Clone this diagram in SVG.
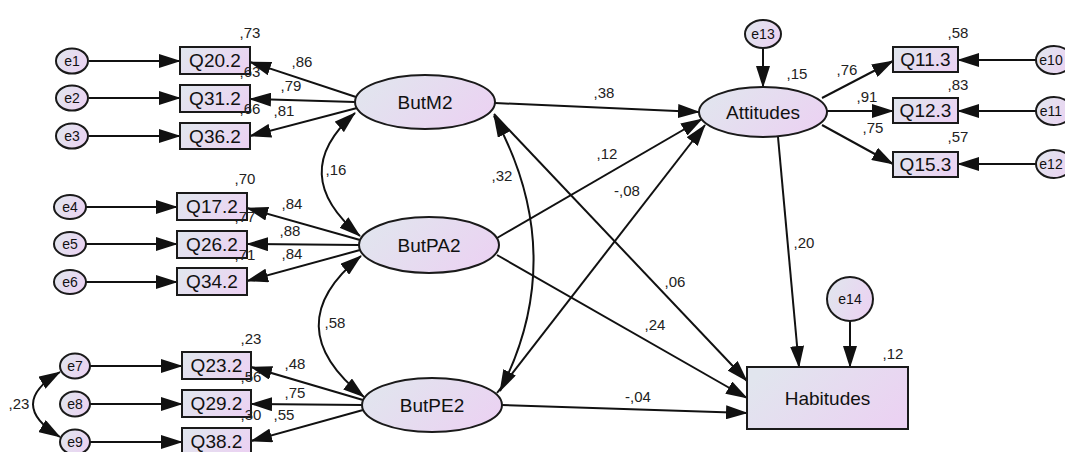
<svg xmlns="http://www.w3.org/2000/svg" width="1065" height="452" viewBox="0 0 1065 452">
<defs>
<linearGradient id="g" x1="0" y1="0.3" x2="1" y2="0.7">
<stop offset="0" stop-color="#e1e5ee"/>
<stop offset="1" stop-color="#ebd2f2"/>
</linearGradient>
<marker id="ah" viewBox="0 0 22 14" refX="21" refY="7" markerWidth="22" markerHeight="14" markerUnits="userSpaceOnUse" orient="auto-start-reverse">
<path d="M0,0 L22,7 L0,14 z" fill="#111"/>
</marker>
<style>
.sh{fill:url(#g);stroke:#1a1a1a;stroke-width:2}
.ln{fill:none;stroke:#111;stroke-width:2;marker-end:url(#ah)}
.cv{fill:none;stroke:#111;stroke-width:2;marker-start:url(#ah);marker-end:url(#ah)}
.t{font-family:"Liberation Sans",Arial,sans-serif;font-size:19px;fill:#111;text-anchor:middle}
.te{font-family:"Liberation Sans",Arial,sans-serif;font-size:14px;fill:#111;text-anchor:middle}
.lb{font-family:"Liberation Sans",Arial,sans-serif;font-size:15px;fill:#222;text-anchor:middle}
</style>
</defs>
<rect width="1065" height="452" fill="#fff"/>
<g id="connectors">
<line class="ln" x1="89" y1="61" x2="180" y2="61"/>
<line class="ln" x1="89" y1="98" x2="180" y2="98"/>
<line class="ln" x1="89" y1="136" x2="180" y2="136"/>
<line class="ln" x1="86" y1="207" x2="177" y2="207"/>
<line class="ln" x1="86" y1="244" x2="177" y2="244"/>
<line class="ln" x1="86" y1="282" x2="177" y2="282"/>
<line class="ln" x1="90" y1="366" x2="182" y2="366"/>
<line class="ln" x1="90" y1="404" x2="182" y2="404"/>
<line class="ln" x1="90" y1="442" x2="182" y2="442"/>
<line class="ln" x1="356" y1="97" x2="250" y2="62"/>
<line class="ln" x1="355" y1="102" x2="250" y2="99"/>
<line class="ln" x1="357" y1="108" x2="250" y2="136"/>
<line class="ln" x1="360" y1="240" x2="247" y2="208"/>
<line class="ln" x1="359" y1="245" x2="247" y2="244"/>
<line class="ln" x1="360" y1="250" x2="247" y2="281"/>
<line class="ln" x1="363" y1="400" x2="251" y2="367"/>
<line class="ln" x1="362" y1="405" x2="251" y2="404"/>
<line class="ln" x1="363" y1="410" x2="251" y2="441"/>
<line class="ln" x1="822" y1="98" x2="893" y2="61"/>
<line class="ln" x1="827" y1="111" x2="893" y2="111"/>
<line class="ln" x1="822" y1="125" x2="893" y2="164"/>
<line class="ln" x1="1036" y1="60" x2="958" y2="60"/>
<line class="ln" x1="1036" y1="111" x2="958" y2="111"/>
<line class="ln" x1="1036" y1="164" x2="958" y2="164"/>
<line class="ln" x1="763" y1="48" x2="763" y2="87"/>
<line class="ln" x1="850" y1="321" x2="850" y2="367"/>
<line class="ln" x1="495" y1="103" x2="699" y2="112"/>
<line class="ln" x1="497" y1="238" x2="702" y2="119"/>
<line class="ln" x1="497" y1="393" x2="705" y2="125"/>
<line class="ln" x1="494" y1="114" x2="747" y2="381"/>
<line class="ln" x1="497" y1="255" x2="747" y2="398"/>
<line class="ln" x1="502" y1="405" x2="747" y2="413"/>
<line class="ln" x1="778" y1="137" x2="799" y2="367"/>
<path class="cv" d="M355,113 Q286,174 360,236"/>
<path class="cv" d="M361,256 Q275,326 364,397"/>
<path class="cv" d="M494,116 Q570,255 500,391"/>
<path class="cv" d="M60,372 Q6,404 60,437"/>
</g>
<g id="e1"><ellipse class="sh" cx="72" cy="61" rx="16" ry="12.5"/><text class="te" x="72" y="66">e1</text></g>
<g id="e2"><ellipse class="sh" cx="72" cy="98" rx="16" ry="12.5"/><text class="te" x="72" y="103">e2</text></g>
<g id="e3"><ellipse class="sh" cx="72" cy="136" rx="16" ry="12.5"/><text class="te" x="72" y="141">e3</text></g>
<g id="e4"><ellipse class="sh" cx="70" cy="207" rx="16" ry="12"/><text class="te" x="70" y="212">e4</text></g>
<g id="e5"><ellipse class="sh" cx="70" cy="244" rx="16" ry="12"/><text class="te" x="70" y="249">e5</text></g>
<g id="e6"><ellipse class="sh" cx="70" cy="282" rx="16" ry="12"/><text class="te" x="70" y="287">e6</text></g>
<g id="e7"><ellipse class="sh" cx="75" cy="366" rx="15" ry="12.5"/><text class="te" x="75" y="371">e7</text></g>
<g id="e8"><ellipse class="sh" cx="75" cy="404" rx="15" ry="12.5"/><text class="te" x="75" y="409">e8</text></g>
<g id="e9"><ellipse class="sh" cx="75" cy="442" rx="15" ry="12.5"/><text class="te" x="75" y="447">e9</text></g>
<g id="Q20.2"><rect class="sh" x="180" y="47" width="70" height="27"/><text class="t" x="215" y="67">Q20.2</text></g>
<g id="Q31.2"><rect class="sh" x="180" y="85" width="70" height="27"/><text class="t" x="215" y="105">Q31.2</text></g>
<g id="Q36.2"><rect class="sh" x="180" y="123" width="70" height="26"/><text class="t" x="215" y="143">Q36.2</text></g>
<g id="Q17.2"><rect class="sh" x="177" y="193" width="70" height="27"/><text class="t" x="212" y="213">Q17.2</text></g>
<g id="Q26.2"><rect class="sh" x="177" y="231" width="70" height="27"/><text class="t" x="212" y="251">Q26.2</text></g>
<g id="Q34.2"><rect class="sh" x="177" y="268" width="70" height="27"/><text class="t" x="212" y="288">Q34.2</text></g>
<g id="Q23.2"><rect class="sh" x="182" y="352" width="69" height="27"/><text class="t" x="216.5" y="372">Q23.2</text></g>
<g id="Q29.2"><rect class="sh" x="182" y="390" width="69" height="27"/><text class="t" x="216.5" y="410">Q29.2</text></g>
<g id="Q38.2"><rect class="sh" x="182" y="428" width="69" height="27"/><text class="t" x="216.5" y="448">Q38.2</text></g>
<g id="ButM2"><ellipse class="sh" cx="425" cy="102" rx="70" ry="27"/><text class="t" x="425" y="109">ButM2</text></g>
<g id="ButPA2"><ellipse class="sh" cx="429" cy="245" rx="70" ry="28"/><text class="t" x="429" y="252">ButPA2</text></g>
<g id="ButPE2"><ellipse class="sh" cx="432" cy="405" rx="70" ry="27"/><text class="t" x="432" y="412">ButPE2</text></g>
<g id="Attitudes"><ellipse class="sh" cx="763" cy="112" rx="64" ry="25"/><text class="t" x="763" y="119">Attitudes</text></g>
<g id="e13"><ellipse class="sh" cx="763" cy="34" rx="18" ry="14"/><text class="te" x="763" y="39">e13</text></g>
<g id="Q11.3"><rect class="sh" x="893" y="47" width="65" height="25"/><text class="t" x="925.5" y="66">Q11.3</text></g>
<g id="Q12.3"><rect class="sh" x="893" y="98" width="65" height="25"/><text class="t" x="925.5" y="117">Q12.3</text></g>
<g id="Q15.3"><rect class="sh" x="893" y="152" width="65" height="25"/><text class="t" x="925.5" y="171">Q15.3</text></g>
<g id="e10"><ellipse class="sh" cx="1054" cy="60" rx="18" ry="14"/><text class="te" x="1051" y="65">e10</text></g>
<g id="e11"><ellipse class="sh" cx="1054" cy="111" rx="18" ry="14"/><text class="te" x="1051" y="116">e11</text></g>
<g id="e12"><ellipse class="sh" cx="1054" cy="164" rx="18" ry="14"/><text class="te" x="1051" y="169">e12</text></g>
<g id="e14"><ellipse class="sh" cx="850" cy="299" rx="23" ry="22"/><text class="te" x="850" y="304">e14</text></g>
<g id="Habitudes"><rect class="sh" x="747" y="367" width="161" height="62"/><text class="t" x="827.5" y="405">Habitudes</text></g>
<g id="labels">
<text class="lb" x="250" y="38">,73</text>
<text class="lb" x="250" y="77">,63</text>
<text class="lb" x="250" y="114">,66</text>
<text class="lb" x="302" y="67">,86</text>
<text class="lb" x="291" y="91">,79</text>
<text class="lb" x="284" y="116">,81</text>
<text class="lb" x="245" y="184">,70</text>
<text class="lb" x="245" y="222">,77</text>
<text class="lb" x="245" y="260">,71</text>
<text class="lb" x="292" y="209">,84</text>
<text class="lb" x="290" y="236">,88</text>
<text class="lb" x="292" y="259">,84</text>
<text class="lb" x="251" y="344">,23</text>
<text class="lb" x="251" y="382">,56</text>
<text class="lb" x="251" y="420">,30</text>
<text class="lb" x="295" y="369">,48</text>
<text class="lb" x="295" y="398">,75</text>
<text class="lb" x="284" y="420">,55</text>
<text class="lb" x="19" y="409">,23</text>
<text class="lb" x="336" y="175">,16</text>
<text class="lb" x="335" y="328">,58</text>
<text class="lb" x="502" y="181">,32</text>
<text class="lb" x="604" y="98">,38</text>
<text class="lb" x="607" y="159">,12</text>
<text class="lb" x="627" y="196">-,08</text>
<text class="lb" x="675" y="287">,06</text>
<text class="lb" x="655" y="330">,24</text>
<text class="lb" x="638" y="402">-,04</text>
<text class="lb" x="804" y="248">,20</text>
<text class="lb" x="893" y="359">,12</text>
<text class="lb" x="797" y="79">,15</text>
<text class="lb" x="847" y="75">,76</text>
<text class="lb" x="867" y="102">,91</text>
<text class="lb" x="873" y="133">,75</text>
<text class="lb" x="958" y="38">,58</text>
<text class="lb" x="958" y="90">,83</text>
<text class="lb" x="958" y="142">,57</text>
</g>
</svg>
